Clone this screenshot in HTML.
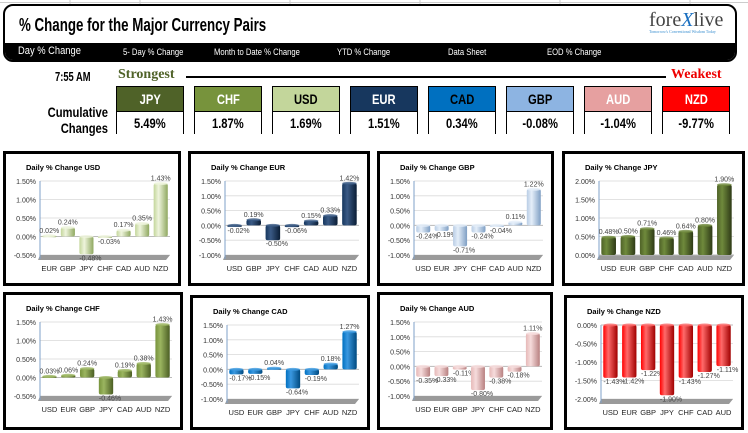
<!DOCTYPE html>
<html><head><meta charset="utf-8">
<style>
body{margin:0;width:748px;height:433px;background:#fff;position:relative;overflow:hidden;font-family:"Liberation Sans",sans-serif}
.abs{position:absolute}
.narrow{font-family:"Liberation Sans Narrow","Liberation Sans",sans-serif;font-weight:bold}
.cl{transform:scaleX(.75);transform-origin:left center;white-space:nowrap}
.cc{display:inline-block;transform:scaleX(.8);transform-origin:center;white-space:nowrap}
.nav{position:absolute;top:47px;color:#fff;font-size:9px;white-space:nowrap;transform:scaleX(.85);transform-origin:left center}
.box{position:absolute;width:68px;height:48px;border:1px solid #000;box-sizing:border-box}
.box .h{height:24px;line-height:24px;text-align:center;font-size:14px;border-bottom:1px solid #000}
.box .v{height:23px;line-height:23px;text-align:center;font-size:14px;color:#000;background:#fff}
.panel{position:absolute;border:3px solid #000;box-sizing:border-box;background:#fff}
</style></head><body>
<svg class="abs" style="left:0;top:0" width="748" height="6"><g stroke="#ccc"><line x1="0" y1="2.5" x2="748" y2="2.5"/><line x1="70" y1="0" x2="70" y2="6"/><line x1="140" y1="0" x2="140" y2="6"/><line x1="290" y1="0" x2="290" y2="6"/><line x1="420" y1="0" x2="420" y2="6"/><line x1="560" y1="0" x2="560" y2="6"/><line x1="690" y1="0" x2="690" y2="6"/></g></svg>
<div class="abs" style="left:3px;top:4px;width:734px;height:58px;border:2px solid #000;border-radius:10px;box-sizing:border-box;overflow:hidden;background:#fff">
 <div class="abs narrow cl" style="left:14px;top:9px;font-size:18px;color:#000;transform:scaleX(.74)">% Change for the Major Currency Pairs</div>
 <div class="abs" style="left:644px;top:3px;font-family:'Liberation Serif',serif;font-size:20px;color:#444">fore<span style="color:#1a6fc0;font-style:italic">X</span>live<div style="font-size:4px;color:#3a8fd0;margin-top:-3px">Tomorrow's Conventional Wisdom Today</div></div>
 <div class="abs" style="left:0;top:37px;width:734px;height:21px;background:#000"></div>
</div>
<div class="nav" style="left:18px;top:45px;font-size:11px">Day % Change</div>
<div class="nav" style="left:123px">5- Day % Change</div>
<div class="nav" style="left:214px">Month to Date % Change</div>
<div class="nav" style="left:337px">YTD % Change</div>
<div class="nav" style="left:448px">Data Sheet</div>
<div class="nav" style="left:547px">EOD % Change</div>

<div class="abs narrow cl" style="left:55px;top:69px;font-size:13px;transform:scaleX(.72)">7:55 AM</div>
<div class="abs narrow" style="left:118px;top:67px;font-size:14px;color:#4f6228;font-family:'Liberation Serif',serif">Strongest</div>
<div class="abs" style="left:186px;top:76px;width:480px;height:2px;background:#000"></div>
<div class="abs narrow" style="left:671px;top:67px;font-size:14px;color:#e00;font-family:'Liberation Serif',serif">Weakest</div>
<div class="abs narrow" style="left:20px;top:104px;width:88px;text-align:right;font-size:14px;line-height:16px;transform:scaleX(.8);transform-origin:right center">Cumulative<br>Changes</div>
<div id="boxes"></div>

<div id="charts"></div>
<script>
const currencies=["JPY","CHF","USD","EUR","CAD","GBP","AUD","NZD"];
const cumValues=["5.49%","1.87%","1.69%","1.51%","0.34%","-0.08%","-1.04%","-9.77%"];
const boxColors=["#4f6228","#77933c","#c3d69b","#17375e","#0070c0","#8db4e2","#e6a0a0","#ff0000"];
const boxText=["#fff","#fff","#000","#fff","#000","#000","#fff","#fff"];
const bx=document.getElementById('boxes');
currencies.forEach((c,i)=>{
 const d=document.createElement('div');d.className='box narrow';
 
 
 d.style.left=(116+i*78)+'px';d.style.top='86px';
 d.innerHTML='<div class="h" style="background:'+boxColors[i]+';color:'+boxText[i]+'"><span class="cc">'+c+'</span></div><div class="v"><span class="cc">'+cumValues[i]+'</span></div>';
 bx.appendChild(d);
});

const usdCats=["EUR","GBP","JPY","CHF","CAD","AUD","NZD"], usdVals=[0.02,0.24,-0.48,-0.03,0.17,0.35,1.43];
const eurCats=["USD","GBP","JPY","CHF","CAD","AUD","NZD"], eurVals=[-0.02,0.19,-0.50,-0.06,0.15,0.33,1.42];
const gbpCats=["USD","EUR","JPY","CHF","CAD","AUD","NZD"], gbpVals=[-0.24,-0.19,-0.71,-0.24,-0.04,0.11,1.22];
const jpyCats=["USD","EUR","GBP","CHF","CAD","AUD","NZD"], jpyVals=[0.48,0.50,0.71,0.46,0.64,0.80,1.90];
const chfCats=["USD","EUR","GBP","JPY","CAD","AUD","NZD"], chfVals=[0.03,0.06,0.24,-0.46,0.19,0.38,1.43];
const cadCats=["USD","EUR","GBP","JPY","CHF","AUD","NZD"], cadVals=[-0.17,-0.15,0.04,-0.64,-0.19,0.18,1.27];
const audCats=["USD","EUR","GBP","JPY","CHF","CAD","NZD"], audVals=[-0.35,-0.33,-0.11,-0.80,-0.38,-0.18,1.11];
const nzdCats=["USD","EUR","GBP","JPY","CHF","CAD","AUD"], nzdVals=[-1.43,-1.42,-1.22,-1.90,-1.43,-1.27,-1.11];
const ticksA=[-0.5,0,0.5,1,1.5], ticksB=[-1,-0.5,0,0.5,1,1.5], ticksJ=[0,0.5,1,1.5,2], ticksN=[-2,-1.5,-1,-0.5,0];

const charts=[
 {n:"USD",cats:usdCats,vals:usdVals,ticks:ticksA,col:["#eef4dc","#c3d69b","#8fa860"],box:[3,151,178,135]},
 {n:"EUR",cats:eurCats,vals:eurVals,ticks:ticksB,col:["#3a5a85","#17375e","#0a1d35"],box:[188,151,182,135]},
 {n:"GBP",cats:gbpCats,vals:gbpVals,ticks:ticksB,col:["#e4eef9","#b9cde5","#7f9fc4"],box:[377,151,177,135]},
 {n:"JPY",cats:jpyCats,vals:jpyVals,ticks:ticksJ,col:["#6f8a3c","#4f6228","#2e3a16"],box:[562,151,183,135]},
 {n:"CHF",cats:chfCats,vals:chfVals,ticks:ticksA,col:["#9bb560","#77933c","#4b5e24"],box:[3,292,180,138]},
 {n:"CAD",cats:cadCats,vals:cadVals,ticks:ticksB,col:["#3a98e0","#0070c0","#004a80"],box:[190,295,180,135]},
 {n:"AUD",cats:audCats,vals:audVals,ticks:ticksB,col:["#f6dcdc","#e6b9b8","#b88080"],box:[377,292,176,138]},
 {n:"NZD",cats:nzdCats,vals:nzdVals,ticks:ticksN,col:["#ff6a6a","#ff0000","#a00000"],box:[564,295,180,135]}
];
const NS="http://www.w3.org/2000/svg";
function el(t,a,p){const e=document.createElementNS(NS,t);for(const k in a)e.setAttribute(k,a[k]);p.appendChild(e);return e;}
const host=document.getElementById('charts');
charts.forEach(ch=>{
 const [px,py,pw,ph]=ch.box;
 const d=document.createElement('div');d.className='panel';
 
 
 d.style.left=px+'px';d.style.top=py+'px';d.style.width=pw+'px';d.style.height=ph+'px';
 host.appendChild(d);
 const W=pw-6,H=ph-6;
 const svg=el('svg',{width:W,height:H,style:'position:absolute;left:0;top:0;font-family:Liberation Sans,sans-serif'},d);
 const defs=el('defs',{},svg);
 const g=el('linearGradient',{id:'g'+ch.n,x1:0,x2:1,y1:0,y2:0},defs);
 el('stop',{offset:'0',  'stop-color':ch.col[1]},g);
 el('stop',{offset:'0.35','stop-color':ch.col[0]},g);
 el('stop',{offset:'1','stop-color':ch.col[2]},g);
 const t=el('text',{x:20,y:16,'font-size':7.5,'font-weight':'bold',fill:'#000'},svg);t.textContent='Daily % Change '+ch.n;
 
 
 const L=34,R=W-8,T=27,B=101;
 const mn=ch.ticks[0],mx=ch.ticks[ch.ticks.length-1];
 const y=v=>B-(v-mn)/(mx-mn)*(B-T);
 const bw=(R-L)/ch.cats.length;
 const x=i=>L+bw*i+bw/2;
 ch.ticks.forEach(v=>{
  el('line',{x1:L,x2:R,y1:y(v),y2:y(v),stroke:'#d9d9d9','stroke-width':0.8},svg);
  const tl=el('text',{x:L-4,y:y(v)+3,'font-size':7,fill:'#333','text-anchor':'end'},svg);
  tl.textContent=v.toFixed(2)+'%';
  
  
 });
 el('polygon',{points:`${L},${B} ${R},${B} ${R-4},${B+5} ${L-2},${B+5}`,fill:'#9a9a9a'},svg);
 el('line',{x1:L,x2:L,y1:T,y2:B+4,stroke:'#7fa0c8','stroke-width':1},svg);
 el('line',{x1:L,x2:R,y1:y(0),y2:y(0),stroke:'#bbb','stroke-width':1},svg);
 ch.vals.forEach((v,i)=>{
  const y0=y(0),y1=y(v),top=Math.min(y0,y1),h=Math.max(1.5,Math.abs(y1-y0));
  const w=bw*0.76,bx0=x(i)-w/2;
  const r=el('rect',{x:bx0,y:top,width:w,height:h,rx:2,fill:'url(#g'+ch.n+')'},svg);
  
  
  el('ellipse',{cx:x(i),cy:top,rx:w/2,ry:1.5,fill:ch.col[0],opacity:0.8},svg);
  const lb=el('text',{x:x(i)+(v<0?4:0),y:v>=0?top-3:top+h+6,'font-size':7,fill:'#444','text-anchor':'middle'},svg);
  lb.textContent=v.toFixed(2)+'%';
  
  
  const cl=el('text',{x:x(i),y:B+16,'font-size':7.5,fill:'#222','text-anchor':'middle'},svg);
  cl.textContent=ch.cats[i];
  
  
 });
});
</script>
</body></html>
